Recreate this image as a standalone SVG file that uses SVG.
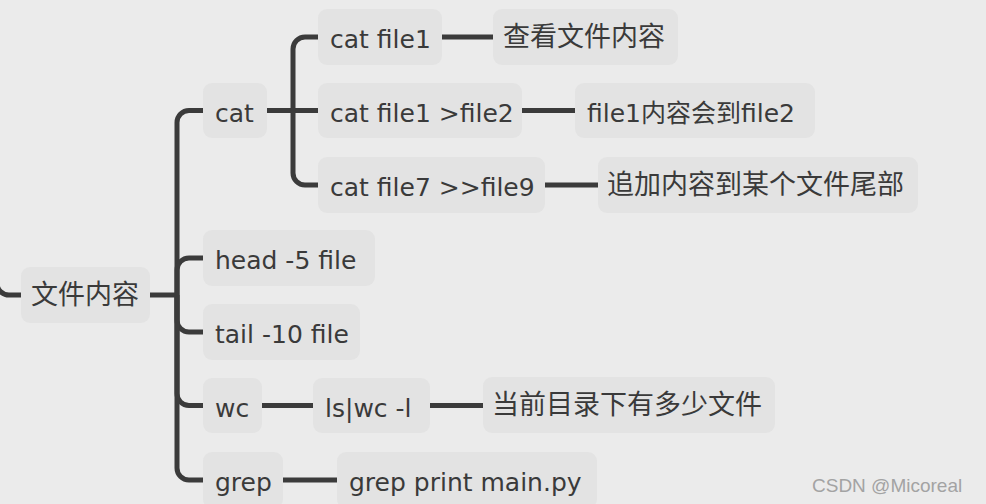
<svg xmlns="http://www.w3.org/2000/svg" width="986" height="504" viewBox="0 0 986 504">
<style>
.bg{fill:#ebebeb}
.box{fill:#e3e3e3}
.t{font-family:"DejaVu Sans","Noto Sans CJK SC",sans-serif;font-size:25px;fill:#3a3a3a}
.c{font-family:"Noto Sans CJK SC","DejaVu Sans",sans-serif;font-size:27px;fill:#3a3a3a}
.ln{fill:none;stroke:#3b3b3b;stroke-width:5}
.wm{font-family:"Liberation Sans",Arial,sans-serif;font-size:19px;fill:#a3a3a3}
</style>
<rect class="bg" x="0" y="0" width="986" height="504"/>
<g id="connectors">
<path class="ln" d="M-3 270 V283 A12 12 0 0 0 9 295 H21"/>
<path class="ln" d="M150 295 H177"/>
<path class="ln" d="M177 295 V122.5 A12 12 0 0 1 189 110.5 H203"/>
<path class="ln" d="M177 295 V270 A12 12 0 0 1 189 258 H203"/>
<path class="ln" d="M177 295 V320 A12 12 0 0 0 189 332 H203"/>
<path class="ln" d="M177 295 V393.5 A12 12 0 0 0 189 405.5 H203"/>
<path class="ln" d="M177 295 V468 A12 12 0 0 0 189 480 H203"/>
<path class="ln" d="M267 110.5 H318"/>
<path class="ln" d="M293 110.5 V49 A12 12 0 0 1 305 37 H318"/>
<path class="ln" d="M293 110.5 V173 A12 12 0 0 0 305 185 H318"/>
<path class="ln" d="M442 37 H493"/>
<path class="ln" d="M522 110.5 H575"/>
<path class="ln" d="M545 185 H598"/>
<path class="ln" d="M262 405.5 H313"/>
<path class="ln" d="M430 405.5 H483"/>
<path class="ln" d="M283 480 H337"/>
</g>
<g id="root"><rect class="box" x="21" y="267" width="129" height="56" rx="9"/><text class="c" x="31" y="304">文件内容</text></g>
<g id="cat"><rect class="box" x="203" y="83" width="64" height="55" rx="9"/><text class="t" x="215" y="121.5">cat</text></g>
<g id="catfile1"><rect class="box" x="318" y="9" width="124" height="56" rx="9"/><text class="t" x="330" y="48">cat file1</text></g>
<g id="view"><rect class="box" x="493" y="9" width="185" height="56" rx="9"/><text class="c" x="503" y="46">查看文件内容</text></g>
<g id="catfile2"><rect class="box" x="318" y="83" width="204" height="55" rx="9"/><text class="t" x="330" y="121.5">cat file1 &gt;file2</text></g>
<g id="tofile2"><rect class="box" x="575" y="83" width="240" height="55" rx="9"/><text class="t" x="587" y="121.5">file1内容会到file2</text></g>
<g id="catfile9"><rect class="box" x="318" y="157" width="227" height="56" rx="9"/><text class="t" x="330" y="196">cat file7 &gt;&gt;file9</text></g>
<g id="append"><rect class="box" x="598" y="157" width="320" height="56" rx="9"/><text class="c" x="607" y="194">追加内容到某个文件尾部</text></g>
<g id="head"><rect class="box" x="203" y="230" width="172" height="56" rx="9"/><text class="t" x="215" y="269">head -5 file</text></g>
<g id="tail"><rect class="box" x="203" y="304" width="157" height="56" rx="9"/><text class="t" x="215" y="343">tail -10 file</text></g>
<g id="wc"><rect class="box" x="203" y="378" width="59" height="55" rx="9"/><text class="t" x="215" y="416.5">wc</text></g>
<g id="lswc"><rect class="box" x="313" y="378" width="117" height="55" rx="9"/><text class="t" x="325" y="416.5">ls|wc -l</text></g>
<g id="count"><rect class="box" x="483" y="377" width="292" height="56" rx="9"/><text class="c" x="492" y="414">当前目录下有多少文件</text></g>
<g id="grep"><rect class="box" x="203" y="452" width="80" height="56" rx="9"/><text class="t" x="215" y="491">grep</text></g>
<g id="grepprint"><rect class="box" x="337" y="452" width="260" height="56" rx="9"/><text class="t" x="349" y="491">grep print main.py</text></g>
<text class="wm" x="812" y="492">CSDN @Micoreal</text>
</svg>
